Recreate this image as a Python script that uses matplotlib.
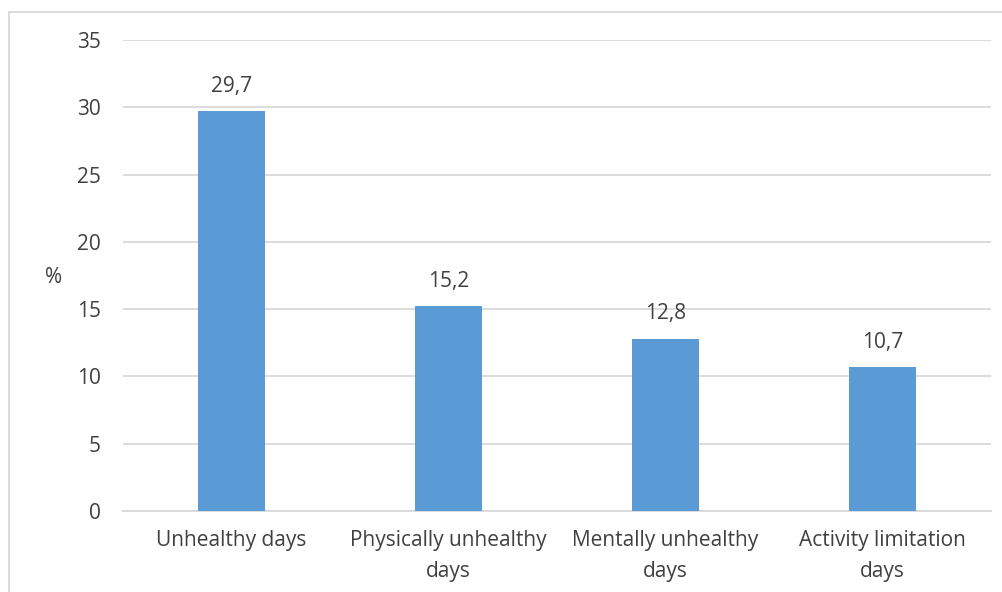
import matplotlib.pyplot as plt
from matplotlib.patches import Rectangle

categories = ["Unhealthy days", "Physically unhealthy\ndays",
              "Mentally unhealthy\ndays", "Activity limitation\ndays"]
values = [29.7, 15.2, 12.8, 10.7]
yticks = [0, 5, 10, 15, 20, 25, 30, 35]

bar_color = "#5B9BD5"
text_color = "#404040"
grid_color = "#D9D9D9"

plt.rcParams['font.family'] = ['Open Sans', 'DejaVu Sans']

fig = plt.figure(figsize=(10.03, 5.92), dpi=100)
ax = fig.add_axes([123 / 1003, 1 - 511 / 592, (991 - 123) / 1003, 471 / 592])

x = range(len(categories))
bars = ax.bar(x, values, width=0.313, color=bar_color, zorder=3)

for xi, v in zip(x, values):
    ax.annotate(f"{v:.1f}".replace(".", ","), (xi, v), xytext=(0, 18),
                textcoords="offset points", ha="center", va="center",
                fontsize=15, color=text_color)

ax.set_xlim(-0.5, len(categories) - 0.5)
ax.set_ylim(0, 35)
ax.set_yticks(yticks)
ax.set_yticklabels([str(t) for t in yticks])
ax.set_xticks(list(x))
ax.set_xticklabels(categories, linespacing=1.62)
ax.tick_params(axis="y", length=0, pad=16, labelsize=15, labelcolor=text_color)
ax.tick_params(axis="x", length=0, pad=14, labelsize=15, labelcolor=text_color)

ax.grid(axis="y", color=grid_color, linewidth=1.3, zorder=0)
for s in ["top", "right", "left"]:
    ax.spines[s].set_visible(False)
ax.spines["bottom"].set_color(grid_color)
ax.spines["bottom"].set_linewidth(1.3)

fig.text(54 / 1003, 1 - 277 / 592, "%", fontsize=15, color=text_color,
         ha="center", va="center")

# light chart-area frame
fig.patches.append(Rectangle((9 / 1003, -0.1), 1.1, 1 - 12 / 592 + 0.1,
                             transform=fig.transFigure, fill=False,
                             edgecolor="#D9D9D9", linewidth=1.3))

fig.savefig("out.png", dpi=100)
